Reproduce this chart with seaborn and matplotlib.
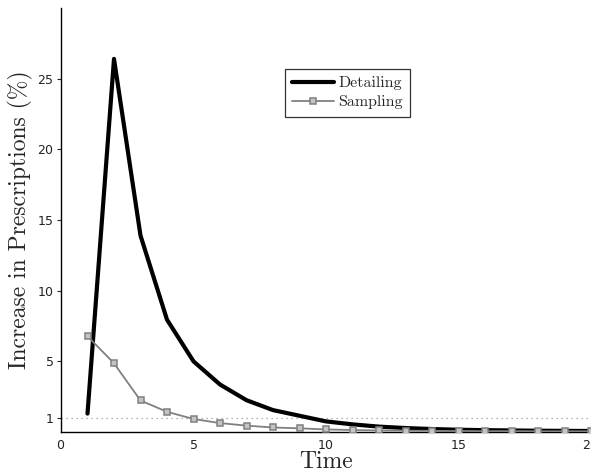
import pandas as pd
import matplotlib.pyplot as plt
import numpy as np
import seaborn as sns

time = list(range(1, 21))
detailing = [1.3, 26.4, 13.9, 7.95, 5.0, 3.36, 2.25, 1.55, 1.15, 0.75,
             0.54, 0.38, 0.28, 0.21, 0.16, 0.13, 0.11, 0.09, 0.08, 0.07]
sampling = [6.78, 4.86, 2.23, 1.43, 0.92, 0.63, 0.45, 0.32, 0.26, 0.18,
            0.14, 0.11, 0.09, 0.08, 0.07, 0.06, 0.06, 0.05, 0.05, 0.05]
yticks = [1, 5, 10, 15, 20, 25]
xticks = [0, 5, 10, 15, 20]

df = pd.DataFrame({'Time': time, 'Detailing': detailing, 'Sampling': sampling})

sns.set_style('ticks')
plt.rcParams['axes.formatter.use_mathtext'] = True

fig = plt.figure(figsize=(5.91, 4.73), dpi=100)
ax = fig.add_axes([61/591, 41/473, 530/591, 424/473])

sns.lineplot(x='Time', y='Detailing', data=df, ax=ax, color='black',
             linewidth=3.0, label='Detailing', zorder=3)
sns.lineplot(x='Time', y='Sampling', data=df, ax=ax, color='#808080',
             linewidth=1.3, marker='s', markersize=4.5, markerfacecolor='#c4c4c4',
             markeredgecolor='#808080', markeredgewidth=1.1, label='Sampling', zorder=4)

ax.axhline(1, color='#999999', linestyle=(0, (1, 3)), linewidth=0.9, zorder=1)

ax.set_xlim(0, 20)
ax.set_ylim(0, 30)
ax.set_xticks(xticks)
ax.set_yticks(yticks)
ax.tick_params(axis='x', length=0, pad=5, labelsize=9, labelcolor='#222222')
ax.tick_params(axis='y', length=3, width=0.8, direction='out', pad=2,
               labelsize=9, labelcolor='#222222')
for s in ['top', 'right']:
    ax.spines[s].set_visible(False)
for s in ['left', 'bottom']:
    ax.spines[s].set_linewidth(1.0)
    ax.spines[s].set_color('black')

ax.set_xlabel('Time', family='cmr10', fontsize=17, labelpad=-1)
ax.set_ylabel('Increase in Prescriptions (%)', family='cmr10', fontsize=17, labelpad=3)

leg = ax.legend(loc='upper left', bbox_to_anchor=(0.4226, 0.856), frameon=True,
                fancybox=False, edgecolor='black', handlelength=2.6, borderaxespad=0,
                prop={'family': 'cmr10', 'size': 11.5}, borderpad=0.45, labelspacing=0.3,
                handletextpad=0.3)
leg.get_frame().set_linewidth(0.9)

fig.savefig('out.png', dpi=100)
